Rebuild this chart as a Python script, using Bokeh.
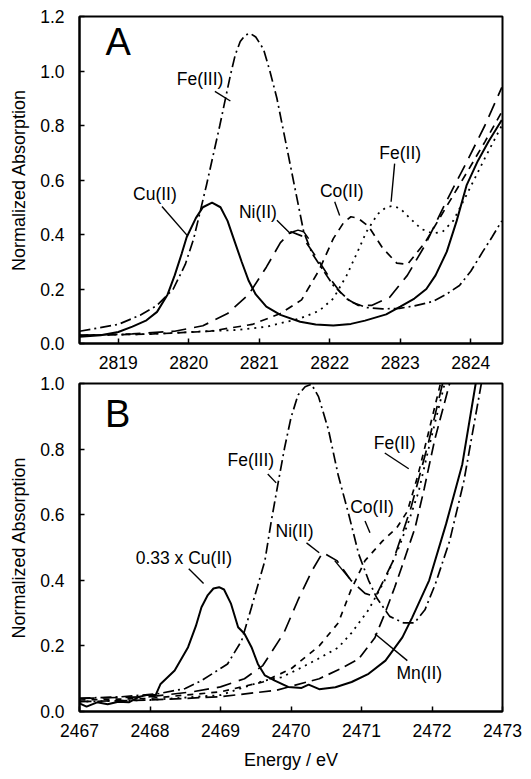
from bokeh.plotting import figure
from bokeh.layouts import column
from bokeh.models import Range1d, FixedTicker, NumeralTickFormatter
from bokeh.core.properties import value
from bokeh.embed import file_html
from bokeh.resources import INLINE

FONT = "Liberation Sans"

# ---------------- Panel A data (energies, eV) ----------------
a_cu_x = [2818.45, 2818.75, 2819.0, 2819.2, 2819.4, 2819.55, 2819.7, 2819.8, 2819.9, 2819.97,
          2820.1, 2820.2, 2820.33, 2820.45, 2820.55, 2820.65, 2820.75, 2820.85, 2820.95, 2821.1,
          2821.3, 2821.58, 2821.8, 2822.05, 2822.3, 2822.5, 2822.8, 2823.0, 2823.2, 2823.37,
          2823.5, 2823.66, 2823.8, 2823.94, 2824.1, 2824.25, 2824.44]
a_cu_y = [0.025, 0.03, 0.042, 0.062, 0.085, 0.116, 0.18, 0.25, 0.33, 0.39,
          0.46, 0.5, 0.517, 0.5, 0.45, 0.375, 0.30, 0.23, 0.18, 0.135,
          0.105, 0.08, 0.07, 0.066, 0.072, 0.084, 0.107, 0.135, 0.165, 0.2,
          0.25, 0.337, 0.45, 0.58, 0.67, 0.74, 0.82]

a_fe3_x = [2818.45, 2819.0, 2819.31, 2819.55, 2819.78, 2819.95, 2820.07, 2820.25, 2820.44, 2820.59,
           2820.66, 2820.73, 2820.8, 2820.87, 2820.95, 2821.06, 2821.15, 2821.25, 2821.44, 2821.63,
           2821.75, 2821.86, 2822.05, 2822.29, 2822.52, 2822.75, 2822.99, 2823.2, 2823.46, 2823.65,
           2823.84, 2824.0, 2824.17, 2824.3, 2824.44]
a_fe3_y = [0.045, 0.07, 0.104, 0.14, 0.2, 0.29, 0.385, 0.58, 0.80, 0.984,
           1.06, 1.108, 1.132, 1.138, 1.125, 1.08, 1.0, 0.9, 0.655, 0.41,
           0.33, 0.287, 0.213, 0.154, 0.132, 0.127, 0.129, 0.138, 0.154, 0.18,
           0.213, 0.265, 0.337, 0.39, 0.45]

a_ni_x = [2818.45, 2819.2, 2819.8, 2820.2, 2820.55, 2820.85, 2821.1, 2821.3, 2821.45, 2821.6,
          2821.8, 2822.0, 2822.2, 2822.4, 2822.6, 2822.85, 2823.1, 2823.35, 2823.65, 2823.95,
          2824.2, 2824.44]
a_ni_y = [0.03, 0.035, 0.045, 0.065, 0.11, 0.18, 0.28, 0.37, 0.41, 0.395,
          0.32, 0.24, 0.17, 0.14, 0.14, 0.17, 0.25, 0.36, 0.52, 0.67,
          0.8, 0.94]

a_co_x = [2818.45, 2819.5, 2820.3, 2820.9, 2821.3, 2821.6, 2821.85, 2822.05, 2822.2, 2822.3,
          2822.4, 2822.55, 2822.75, 2822.95, 2823.1, 2823.35, 2823.65, 2823.95, 2824.2, 2824.44]
a_co_y = [0.03, 0.035, 0.045, 0.07, 0.11, 0.16, 0.27, 0.385, 0.445, 0.465,
          0.46, 0.43, 0.35, 0.295, 0.29, 0.37, 0.5, 0.63, 0.74, 0.85]

a_fe2_x = [2818.45, 2819.5, 2820.16, 2820.7, 2821.11, 2821.58, 2821.85, 2822.05, 2822.24, 2822.4,
           2822.52, 2822.68, 2822.8, 2822.9, 2823.0, 2823.14, 2823.3, 2823.46, 2823.6, 2823.75,
           2823.94, 2824.2, 2824.44]
a_fe2_y = [0.03, 0.035, 0.044, 0.05, 0.062, 0.092, 0.12, 0.165, 0.25, 0.34,
           0.41, 0.475, 0.5, 0.505, 0.495, 0.459, 0.42, 0.404, 0.41, 0.45,
           0.545, 0.68, 0.8]

# ---------------- Panel B data ----------------
b_cu_x = [2467.0, 2467.1, 2467.25, 2467.4, 2467.55, 2467.7, 2467.85, 2467.95, 2468.08, 2468.15,
          2468.35, 2468.54, 2468.65, 2468.73, 2468.82, 2468.9, 2468.98, 2469.05, 2469.15, 2469.25,
          2469.34, 2469.44, 2469.53, 2469.63, 2469.77, 2469.96, 2470.15, 2470.25, 2470.4, 2470.63,
          2470.86, 2471.1, 2471.34, 2471.58, 2471.72, 2471.96, 2472.2, 2472.43, 2472.62]
b_cu_y = [0.025, 0.015, 0.028, 0.022, 0.03, 0.028, 0.045, 0.05, 0.05, 0.084,
          0.125, 0.196, 0.26, 0.318, 0.355, 0.375, 0.379, 0.372, 0.328, 0.257,
          0.237, 0.196, 0.145, 0.11, 0.094, 0.075, 0.072, 0.082, 0.068, 0.074,
          0.09, 0.115, 0.155, 0.226, 0.287, 0.4, 0.572, 0.754, 1.0]

b_fe3_x = [2467.0, 2467.6, 2468.11, 2468.5, 2468.73, 2469.1, 2469.3, 2469.44, 2469.63, 2469.72,
           2469.82, 2469.91, 2470.0, 2470.1, 2470.2, 2470.29, 2470.39, 2470.53, 2470.67, 2470.82,
           2470.96, 2471.1, 2471.22, 2471.4, 2471.6, 2471.75, 2471.9, 2472.05, 2472.25, 2472.45,
           2472.6, 2472.7]
b_fe3_y = [0.04, 0.045, 0.054, 0.07, 0.094, 0.145, 0.216, 0.318, 0.46, 0.58,
           0.70, 0.805, 0.896, 0.965, 0.99, 0.998, 0.96, 0.86, 0.72, 0.6,
           0.48, 0.40, 0.345, 0.29, 0.27, 0.27, 0.31, 0.39, 0.52, 0.7,
           0.88, 1.0]

b_ni_x = [2467.0, 2468.0, 2468.6, 2469.0, 2469.34, 2469.6, 2469.9, 2470.1, 2470.3, 2470.45,
          2470.65, 2470.85, 2471.05, 2471.2, 2471.45, 2471.7, 2471.95, 2472.15]
b_ni_y = [0.04, 0.045, 0.06, 0.075, 0.1, 0.14, 0.24, 0.34, 0.43, 0.485,
          0.46, 0.40, 0.36, 0.35, 0.46, 0.62, 0.82, 1.0]

b_co_x = [2467.0, 2468.0, 2469.0, 2469.6, 2470.0, 2470.4, 2470.67, 2470.85, 2471.05, 2471.3,
          2471.5, 2471.65, 2471.8, 2471.95, 2472.12]
b_co_y = [0.035, 0.04, 0.06, 0.09, 0.13, 0.2, 0.27, 0.37, 0.46, 0.52,
          0.56, 0.61, 0.72, 0.85, 1.0]

b_fe2_x = [2467.0, 2468.0, 2469.0, 2469.62, 2469.86, 2470.15, 2470.38, 2470.67, 2470.86, 2471.1,
           2471.33, 2471.53, 2471.67, 2471.81, 2471.95, 2472.1, 2472.18]
b_fe2_y = [0.03, 0.035, 0.05, 0.094, 0.104, 0.134, 0.16, 0.195, 0.24, 0.31,
           0.4, 0.5, 0.58, 0.67, 0.8, 0.93, 1.0]

b_mn_x = [2467.0, 2468.0, 2469.0, 2469.8, 2470.4, 2470.7, 2470.96, 2471.19, 2471.33, 2471.47,
          2471.57, 2471.76, 2471.89, 2472.04, 2472.25]
b_mn_y = [0.03, 0.035, 0.045, 0.065, 0.1, 0.13, 0.16, 0.225, 0.298, 0.378,
          0.44, 0.56, 0.68, 0.83, 1.0]

# tick values
a_xticks = [2819, 2820, 2821, 2822, 2823, 2824]
a_yticks = [0.0, 0.2, 0.4, 0.6, 0.8, 1.0, 1.2]
b_xticks = [2467, 2468, 2469, 2470, 2471, 2472, 2473]
b_yticks = [0.0, 0.2, 0.4, 0.6, 0.8, 1.0]

# annotation labels (text, x, y) and leader lines
a_labels = [("Cu(II)", 2819.52, 0.547), ("Fe(III)", 2820.16, 0.972), ("Ni(II)", 2820.98, 0.484),
            ("Co(II)", 2822.17, 0.558), ("Fe(II)", 2823.0, 0.70)]
a_leaders = [([2819.62, 2819.98], [0.503, 0.396]),
             ([2820.37, 2820.59], [0.925, 0.89]),
             ([2821.25, 2821.44, 2821.48, 2821.55, 2821.63, 2821.7], [0.452, 0.404, 0.41, 0.416, 0.41, 0.385]),
             ([2822.07, 2822.14], [0.52, 0.47]),
             ([2822.92, 2822.87], [0.66, 0.52])]
b_labels = [("0.33 x Cu(II)", 2468.48, 0.469), ("Fe(III)", 2469.43, 0.767), ("Ni(II)", 2470.05, 0.551),
            ("Co(II)", 2471.15, 0.624), ("Fe(II)", 2471.47, 0.819), ("Mn(II)", 2471.82, 0.116)]
b_leaders = [([2468.55, 2468.76], [0.435, 0.39]),
             ([2469.67, 2469.79], [0.724, 0.697]),
             ([2470.22, 2470.4], [0.514, 0.484]),
             ([2470.62, 2470.83], [0.46, 0.405]),
             ([2471.05, 2471.12], [0.581, 0.545]),
             ([2471.33, 2471.67], [0.788, 0.74]),
             ([2471.19, 2471.65], [0.237, 0.155])]


def make_fig(xr, yr, xticks, yticks, fheight, btop, bbot, xlabel):
    p = figure(frame_width=423, frame_height=fheight, x_range=Range1d(*xr), y_range=Range1d(*yr),
               output_backend="svg", toolbar_location=None,
               min_border_left=79, min_border_right=20, min_border_top=btop, min_border_bottom=bbot)
    p.xgrid.visible = False
    p.ygrid.visible = False
    p.outline_line_color = "black"
    p.outline_line_width = 2
    p.outline_line_alpha = 1
    p.background_fill_color = "white"
    p.border_fill_color = "white"
    p.xaxis.ticker = FixedTicker(ticks=xticks)
    p.yaxis.ticker = FixedTicker(ticks=yticks)
    p.xaxis.formatter = NumeralTickFormatter(format="0")
    p.yaxis.formatter = NumeralTickFormatter(format="0.0")
    for ax in (p.xaxis[0], p.yaxis[0]):
        ax.axis_line_width = 2
        ax.axis_line_color = "black"
        ax.major_tick_in = 5
        ax.major_tick_out = 0
        ax.major_tick_line_width = 1.5
        ax.major_tick_line_color = "black"
        ax.minor_tick_line_color = None
        ax.major_label_text_font = FONT
        ax.major_label_text_font_size = "17.5px"
        ax.major_label_text_color = "black"
        ax.axis_label_text_font = FONT
        ax.axis_label_text_font_size = "18px"
        ax.axis_label_text_font_style = "normal"
        ax.axis_label_text_color = "black"
    p.xaxis.major_label_standoff = 12
    p.yaxis.major_label_standoff = 15
    p.yaxis.axis_label = "Normalized Absorption"
    p.yaxis.axis_label_standoff = 8
    if xlabel:
        p.xaxis.axis_label = xlabel
        p.xaxis.axis_label_standoff = 10
    return p


def add_labels(p, labels, leaders):
    p.text(x=[l[1] for l in labels], y=[l[2] for l in labels], text=[l[0] for l in labels],
           text_font=value(FONT), text_font_size=value("17.5px"), text_color="black",
           text_align="center", text_baseline="middle")
    for lx, ly in leaders:
        p.line(lx, ly, line_color="black", line_width=1.4)


# Panel A
pa = make_fig((2818.45, 2824.45), (0, 1.2), a_xticks, a_yticks, 327, 16, 32, None)
pa.line(a_cu_x, a_cu_y, line_color="black", line_width=2)
pa.line(a_fe3_x, a_fe3_y, line_color="black", line_width=1.7, line_dash="11 4 2 4")
pa.line(a_ni_x, a_ni_y, line_color="black", line_width=1.7, line_dash="15 8")
pa.line(a_co_x, a_co_y, line_color="black", line_width=1.7, line_dash="8 6")
pa.line(a_fe2_x, a_fe2_y, line_color="black", line_width=1.8, line_dash="2 5")
add_labels(pa, a_labels, a_leaders)
pa.text(x=[2819.0], y=[1.108], text=["A"], text_font=value(FONT), text_font_size=value("38px"),
        text_color="black", text_align="center", text_baseline="middle")

# Panel B
pb = make_fig((2467, 2473), (0, 1.0), b_xticks, b_yticks, 328, 8, 60, "Energy / eV")
pb.line(b_cu_x, b_cu_y, line_color="black", line_width=2)
pb.line(b_fe3_x, b_fe3_y, line_color="black", line_width=1.7, line_dash="11 4 2 4")
pb.line(b_ni_x, b_ni_y, line_color="black", line_width=1.7, line_dash="15 8")
pb.line(b_co_x, b_co_y, line_color="black", line_width=1.7, line_dash="6 6")
pb.line(b_fe2_x, b_fe2_y, line_color="black", line_width=1.8, line_dash="2 5")
pb.line(b_mn_x, b_mn_y, line_color="black", line_width=1.7, line_dash="12 6")
add_labels(pb, b_labels, b_leaders)
pb.text(x=[2467.54], y=[0.907], text=["B"], text_font=value(FONT), text_font_size=value("38px"),
        text_color="black", text_align="center", text_baseline="middle")

layout = column(pa, pb, spacing=0)
open("out.html", "w").write(file_html(layout, INLINE))
